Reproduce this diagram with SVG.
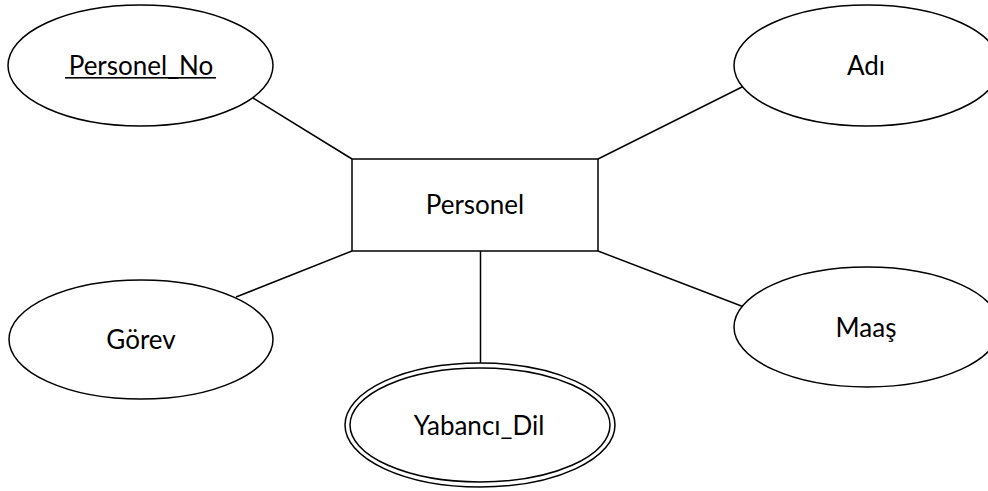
<svg xmlns="http://www.w3.org/2000/svg" width="988" height="491" viewBox="0 0 988 491">
  <style>
    .shape { fill: #ffffff; stroke: #000000; stroke-width: 1.5; }
    .edge { stroke: #000000; stroke-width: 1.5; fill: none; }
    .label { font-family: Lato, "Open Sans", "Liberation Sans", sans-serif; font-size: 26px; fill: #000000; text-anchor: middle; }
  </style>
  <rect width="988" height="491" fill="#ffffff"/>

  <!-- entity-to-attribute links -->
  <g id="connectors">
    <line class="edge" x1="253" y1="98" x2="352" y2="159"/>
    <line class="edge" x1="744" y1="86" x2="598" y2="159"/>
    <line class="edge" x1="236" y1="297" x2="352" y2="251"/>
    <line class="edge" x1="744" y1="307" x2="598" y2="251"/>
    <line class="edge" x1="480.5" y1="251" x2="480.5" y2="363"/>
  </g>

  <!-- entity -->
  <g id="personel">
    <rect class="shape" x="352" y="159" width="246" height="92"/>
    <text class="label" x="475" y="214">Personel</text>
  </g>

  <!-- key attribute -->
  <g id="personel_no">
    <ellipse class="shape" cx="140.5" cy="65.5" rx="132.5" ry="60.5"/>
    <text class="label" x="141" y="75">Personel_No</text>
    <rect x="65" y="77" width="151" height="1.6" fill="#000000"/>
  </g>

  <g id="adi">
    <ellipse class="shape" cx="867" cy="65.5" rx="133" ry="60.5"/>
    <text class="label" x="866" y="74.5">Adı</text>
  </g>

  <g id="gorev">
    <ellipse class="shape" cx="141" cy="339.5" rx="132" ry="59.5"/>
    <text class="label" x="141" y="349">Görev</text>
  </g>

  <g id="maas">
    <ellipse class="shape" cx="867" cy="327" rx="133" ry="60"/>
    <text class="label" x="866" y="337">Maaş</text>
  </g>

  <!-- multivalued attribute: double outline -->
  <g id="yabanci_dil">
    <ellipse class="shape" cx="480" cy="425" rx="135" ry="62"/>
    <ellipse class="shape" cx="480" cy="425" rx="130" ry="57"/>
    <text class="label" x="479" y="435">Yabancı_Dil</text>
  </g>
</svg>
